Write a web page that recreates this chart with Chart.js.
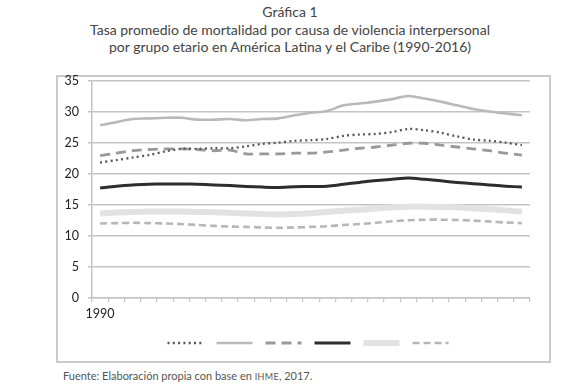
<!DOCTYPE html>
<html lang="es">
<head>
<meta charset="utf-8">
<title>Gráfica 1</title>
<script src="https://cdn.jsdelivr.net/npm/chart.js@4/dist/chart.umd.min.js"></script>
<style>
    html, body {
        margin: 0;
        padding: 0;
        background: #fff;
    }
    body {
        width: 580px;
        height: 389px;
        position: relative;
        overflow: hidden;
        font-family: Lato, "Noto Sans", sans-serif;
    }
    .title {
        position: absolute;
        top: 3px;
        left: 0;
        width: 580px;
        text-align: center;
        font-size: 14px;
        line-height: 17.5px;
        color: #444;
    }
    .frame {
        position: absolute;
        left: 56px;
        top: 75px;
        width: 495px;
        height: 288px;
        box-sizing: border-box;
        border: 2px solid #cacaca;
    }
    .chart-box {
        position: absolute;
        left: 58px;
        top: 64px;
        width: 490px;
        height: 299px;
    }
    .source {
        position: absolute;
        left: 63px;
        top: 369px;
        font-size: 11px;
        color: #555;
    }
    .source .sc {
        font-size: 9px;
        letter-spacing: 0.3px;
    }
</style>
</head>
<body>
<div class="title">
    Gráfica 1<br>
    Tasa promedio de mortalidad por causa de violencia interpersonal<br>
    por grupo etario en América Latina y el Caribe (1990-2016)
</div>
<div class="frame"></div>
<div class="chart-box"><canvas id="mortalityChart"></canvas></div>
<div class="source">Fuente: Elaboración propia con base en <span class="sc">IHME</span>, 2017.</div>

<script>
// Years on the x axis (only the first one is labelled)
const years = [
    '1990', '1991', '1992', '1993', '1994', '1995', '1996', '1997', '1998',
    '1999', '2000', '2001', '2002', '2003', '2004', '2005', '2006', '2007',
    '2008', '2009', '2010', '2011', '2012', '2013', '2014', '2015', '2016'
];
const shownYears = ['1990'];

// Y axis
const yTicks = [0, 5, 10, 15, 20, 25, 30, 35];

// Series values (rate per 100,000)
const dottedSeries = [
    21.8, 22.2, 22.6, 23.0, 23.6, 24.0, 24.0, 24.1, 24.1, 24.4, 24.8, 25.0, 25.3, 25.4,
    25.6, 26.1, 26.3, 26.4, 26.7, 27.2, 27.0, 26.6, 26.0, 25.5, 25.3, 25.0, 24.6
];
const lightSolidSeries = [
    27.8, 28.3, 28.8, 28.9, 29.0, 29.0, 28.7, 28.7, 28.8, 28.6, 28.8, 28.9, 29.4, 29.8,
    30.1, 31.0, 31.3, 31.6, 32.0, 32.5, 32.1, 31.6, 31.0, 30.4, 30.0, 29.7, 29.4
];
const dashedSeries = [
    22.9, 23.3, 23.7, 23.9, 24.0, 24.0, 23.9, 23.7, 23.8, 23.2, 23.2, 23.2, 23.3, 23.3,
    23.5, 23.8, 24.1, 24.3, 24.6, 24.9, 24.9, 24.6, 24.3, 24.0, 23.7, 23.3, 23.0
];
const blackSeries = [
    17.7, 18.0, 18.2, 18.3, 18.35, 18.35, 18.3, 18.2, 18.1, 17.95, 17.85, 17.8, 17.9, 17.95,
    18.0, 18.3, 18.6, 18.9, 19.1, 19.3, 19.1, 18.85, 18.6, 18.4, 18.2, 18.0, 17.85
];
const lightThickSeries = [
    13.6, 13.75, 13.85, 13.9, 13.9, 13.9, 13.85, 13.8, 13.7, 13.6, 13.5, 13.45, 13.5, 13.65,
    13.85, 14.05, 14.2, 14.4, 14.6, 14.7, 14.7, 14.65, 14.6, 14.45, 14.3, 14.1, 13.9
];
const shortDashSeries = [
    12.0, 12.05, 12.1, 12.05, 12.0, 11.9, 11.75, 11.6, 11.5, 11.45, 11.35, 11.3, 11.35, 11.45,
    11.55, 11.75, 11.9, 12.1, 12.35, 12.5, 12.6, 12.6, 12.55, 12.45, 12.3, 12.15, 12.05
];

// Chart colors
const COLORS = {
    dotted: '#575757',
    lightSolid: '#b9b9b9',
    dashed: '#999999',
    black: '#2d2d2d',
    lightThick: '#e2e2e4',
    shortDash: '#b6b6b6',
    grid: '#c4c4c4',
    text: '#222222'
};

/**
 * Build a line dataset
 */
function lineSet(data, color, width, dash) {
    return {
        data: data,
        borderColor: color,
        backgroundColor: color,
        borderWidth: width,
        borderDash: dash,
        borderCapStyle: 'butt',
        pointRadius: 0,
        pointHoverRadius: 0,
        tension: 0.3,
        fill: false
    };
}

const datasets = [
    lineSet(dottedSeries, COLORS.dotted, 2.3, [2, 3.3]),
    lineSet(lightSolidSeries, COLORS.lightSolid, 2.6, []),
    lineSet(dashedSeries, COLORS.dashed, 2.8, [10, 6]),
    lineSet(blackSeries, COLORS.black, 3, []),
    lineSet(lightThickSeries, COLORS.lightThick, 6, []),
    lineSet(shortDashSeries, COLORS.shortDash, 2.6, [7, 4])
];

// Legend entries are line samples only (no text)
function legendLabels(chart) {
    return chart.data.datasets.map((ds, i) => ({
        text: '',
        fillStyle: 'rgba(0,0,0,0)',
        strokeStyle: ds.borderColor,
        lineWidth: ds.borderWidth,
        lineDash: ds.borderDash,
        lineCap: 'butt',
        pointStyle: 'line',
        hidden: false,
        datasetIndex: i
    }));
}

new Chart(document.getElementById('mortalityChart'), {
    type: 'line',
    data: {
        labels: years,
        datasets: datasets
    },
    options: {
        responsive: true,
        maintainAspectRatio: false,
        animation: false,
        layout: {
            padding: { top: 16, right: 18, bottom: 4, left: 0 }
        },
        plugins: {
            legend: {
                position: 'bottom',
                align: 'center',
                fullSize: false,
                labels: {
                    usePointStyle: true,
                    pointStyleWidth: 36,
                    boxHeight: 12,
                    padding: 7,
                    font: { size: 12 },
                    generateLabels: legendLabels
                }
            },
            tooltip: { enabled: false }
        },
        scales: {
            x: {
                offset: true,
                grid: {
                    offset: true,
                    drawOnChartArea: false,
                    color: COLORS.grid,
                    lineWidth: 1.2,
                    tickLength: 4
                },
                border: { color: COLORS.grid, width: 1.5 },
                ticks: {
                    autoSkip: false,
                    maxRotation: 0,
                    padding: 4,
                    color: COLORS.text,
                    font: { family: 'Lato', size: 12.5 },
                    callback: function(value, index) {
                        const year = years[index];
                        return shownYears.includes(year) ? year : '';
                    }
                },
                afterFit: function(scale) {
                    scale.height = 32;
                }
            },
            y: {
                min: 0,
                max: 35,
                afterBuildTicks: function(scale) {
                    scale.ticks = yTicks.map(v => ({ value: v }));
                },
                grid: {
                    color: COLORS.grid,
                    lineWidth: 1.5,
                    tickLength: 4
                },
                border: { color: COLORS.grid, width: 1.5 },
                ticks: {
                    padding: 9,
                    color: COLORS.text,
                    font: { family: 'Lato', size: 12.5 }
                },
                afterFit: function(scale) {
                    scale.width = 34;
                }
            }
        }
    }
});
</script>
</body>
</html>
